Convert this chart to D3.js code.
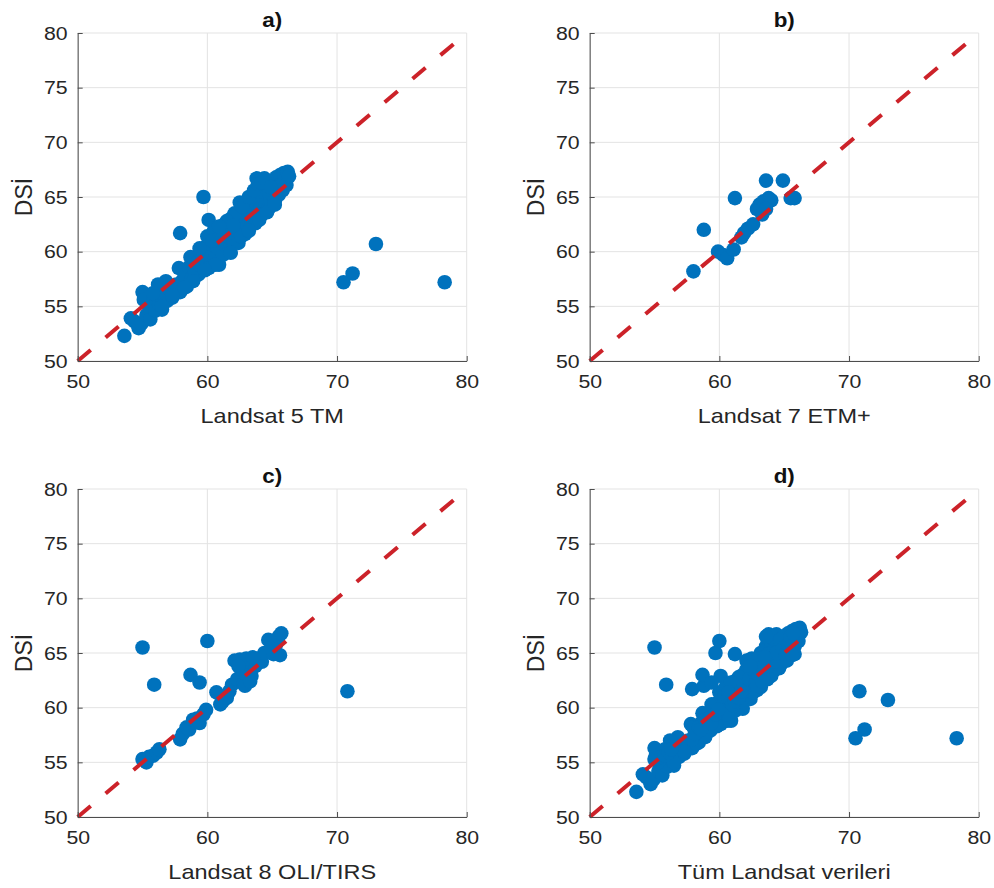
<!DOCTYPE html>
<html>
<head>
<meta charset="utf-8">
<script src="https://cdn.jsdelivr.net/npm/d3@7"></script>
<style>
  body { margin: 0; background: #fff; }
  svg { display: block; }
</style>
</head>
<body>
<svg width="994" height="888"></svg>
<script>
"use strict";

// axis settings
const domainMin = 50, domainMax = 80;
const xTicks = [50, 60, 70, 80];
const yTicks = [50, 55, 60, 65, 70, 75, 80];
const refLine = [50, 79];   // 1:1 line drawn from 50 to 79

const panelTitles = ["a)", "b)", "c)", "d)"];
const xLabels = ["Landsat 5 TM", "Landsat 7 ETM+", "Landsat 8 OLI/TIRS", "Tüm Landsat verileri"];
const yLabel = "DSİ";

// [landsat, DSI] pairs
const landsat5 = [
    [70.5, 57.2], [71.2, 58.0], [73.0, 60.7], [78.3, 57.2], [59.7, 65.0], [57.9, 61.7],
    [53.6, 52.3], [60.1, 62.9], [63.8, 66.7],
    [54.1, 53.9], [54.4, 53.6], [54.7, 53.0], [54.9, 53.4], [55.0, 56.3], [55.1, 55.6],
    [55.3, 54.2], [55.5, 55.0], [55.6, 53.8], [55.8, 55.4], [56.0, 54.6], [56.1, 55.9],
    [56.3, 55.2], [56.5, 54.7], [56.7, 56.0], [56.8, 57.3], [56.9, 55.5], [57.1, 56.6],
    [57.3, 55.8], [57.5, 56.4], [57.6, 57.0], [57.8, 58.5], [57.9, 56.3], [58.1, 57.4],
    [58.3, 57.9], [58.4, 56.8], [58.6, 58.6], [58.7, 59.5], [58.8, 57.6], [59.0, 58.3],
    [59.2, 59.0], [59.3, 57.9], [59.5, 58.7], [59.6, 59.6], [59.8, 60.4], [59.9, 59.1],
    [60.0, 61.4], [60.1, 58.5], [60.2, 59.8], [60.3, 60.7], [60.5, 61.9], [60.6, 59.4],
    [60.8, 60.3], [60.9, 58.8], [61.0, 61.2], [61.2, 59.7], [61.3, 62.5], [61.4, 60.6],
    [61.6, 61.4], [61.7, 60.2], [61.9, 62.1], [62.0, 61.0], [62.2, 61.7], [62.3, 62.6],
    [62.4, 60.8], [62.6, 63.3], [62.7, 62.0], [62.8, 64.3], [62.9, 61.6], [63.0, 63.0],
    [63.1, 62.4], [63.3, 64.0], [63.4, 62.8], [63.5, 65.2], [63.6, 63.5], [63.7, 62.6],
    [63.8, 64.4], [63.9, 63.2], [64.0, 65.6], [64.1, 64.0], [64.2, 63.4], [64.3, 65.0],
    [64.5, 64.4], [64.6, 66.0], [64.7, 63.9], [64.8, 65.3], [64.9, 64.6], [65.0, 66.4],
    [65.1, 65.1], [65.2, 64.6], [65.3, 66.8], [65.4, 65.7], [65.5, 65.2], [65.6, 67.0],
    [65.7, 66.2], [65.8, 65.6], [65.9, 67.2], [66.0, 66.6], [66.1, 66.1], [66.2, 67.3],
    [66.3, 66.9],
    [61.8, 63.0], [62.1, 63.5], [62.5, 64.5], [62.7, 64.1], [63.2, 65.0], [63.6, 65.6],
    [63.9, 66.2], [64.2, 66.3], [64.4, 66.7], [61.5, 62.8], [60.9, 62.3], [60.4, 61.0],
    [59.4, 60.3], [62.6, 61.4], [63.2, 61.9], [64.0, 62.9], [64.6, 63.6], [65.2, 64.3],
    [61.8, 59.9], [60.6, 58.8], [59.8, 58.3], [58.9, 57.3], [58.2, 56.7], [57.3, 56.0],
    [56.5, 55.0], [65.6, 66.0], [64.9, 65.9], [62.0, 62.4], [56.2, 57.0], [55.8, 56.2]
];

const landsat7 = [
    [58.0, 58.2], [58.8, 62.0], [61.2, 64.9], [59.9, 60.0], [60.3, 59.7], [60.6, 59.4],
    [61.1, 60.2], [61.7, 61.3], [61.9, 61.7], [62.2, 62.1], [62.6, 62.5], [62.9, 63.9],
    [63.1, 64.3], [63.3, 63.4], [63.4, 64.6], [63.6, 66.5], [63.8, 64.9], [64.0, 64.7],
    [63.6, 63.9], [64.9, 66.5], [65.5, 64.9], [65.8, 64.9]
];

const landsat8 = [
    [55.0, 65.5], [55.9, 62.1], [60.0, 66.1], [58.7, 63.0], [59.4, 62.3], [70.8, 61.5],
    [55.0, 55.3], [55.3, 55.0], [55.5, 55.5], [55.8, 55.6], [56.1, 55.9], [56.3, 56.2],
    [57.9, 57.1], [58.1, 57.6], [58.4, 58.2], [58.6, 58.0], [58.9, 58.9], [59.2, 59.0],
    [59.4, 58.6], [59.7, 59.4], [59.9, 59.8],
    [60.7, 61.4], [61.0, 60.3], [61.2, 60.6], [61.5, 60.9], [61.7, 61.5], [61.9, 62.1],
    [62.1, 64.3], [62.3, 62.6], [62.6, 63.5], [62.8, 62.2], [63.0, 63.0], [63.2, 64.2],
    [63.4, 62.9], [63.7, 63.8], [63.9, 64.5], [64.2, 64.2], [64.4, 65.0], [64.7, 66.2],
    [64.9, 65.4], [65.1, 64.9], [65.3, 65.8], [65.5, 66.5], [65.6, 64.8], [65.7, 66.8],
    [62.5, 64.4], [63.0, 64.5], [63.5, 64.6], [62.4, 63.8], [62.9, 62.0], [63.3, 62.4]
];

const allLandsat = landsat5.concat(landsat7, landsat8);
const panelData = [landsat5, landsat7, landsat8, allLandsat];

// layout
const plotW = 389, plotH = 328;
const lefts = [77.7, 589.7];
const tops = [33, 489];
const stretch = "scale(1.12,1)";   // the reference text is a little wide
const font = "'Liberation Sans', Arial, Helvetica, sans-serif";

window.addEventListener("load", drawPanels);

function drawPanels() {
    const svg = d3.select("svg");

    panelData.forEach((data, i) => {
        const left = lefts[i % 2];
        const top = tops[Math.floor(i / 2)];

        const x = d3.scaleLinear().domain([domainMin, domainMax]).range([left, left + plotW]);
        const y = d3.scaleLinear().domain([domainMin, domainMax]).range([top + plotH, top]);

        const g = svg.append("g");

        // grid
        g.selectAll(".gx").data(xTicks).join("line")
            .attr("class", "gx")
            .attr("x1", d => x(d)).attr("x2", d => x(d))
            .attr("y1", top).attr("y2", top + plotH)
            .attr("stroke", "#e3e3e3").attr("stroke-width", 1);
        g.selectAll(".gy").data(yTicks).join("line")
            .attr("class", "gy")
            .attr("y1", d => y(d)).attr("y2", d => y(d))
            .attr("x1", left).attr("x2", left + plotW)
            .attr("stroke", "#e3e3e3").attr("stroke-width", 1);

        // points
        g.append("g").selectAll("circle")
            .data(data)
            .join("circle")
                .attr("cx", d => x(d[0]))
                .attr("cy", d => y(d[1]))
                .attr("r", 7.3)
                .attr("fill", "#0072BD");

        // 1:1 line
        g.append("line")
            .attr("x1", x(refLine[0])).attr("y1", y(refLine[0]))
            .attr("x2", x(refLine[1])).attr("y2", y(refLine[1]))
            .attr("stroke", "#cc2229")
            .attr("stroke-width", 4)
            .attr("stroke-dasharray", "17,19.5");

        // axes, ticks pointing inward
        const xAxis = g.append("g")
            .attr("transform", `translate(0, ${top + plotH})`)
            .call(d3.axisBottom(x).tickValues(xTicks).tickSizeInner(-5).tickSizeOuter(0).tickPadding(14));
        const yAxis = g.append("g")
            .attr("transform", `translate(${left}, 0)`)
            .call(d3.axisLeft(y).tickValues(yTicks).tickSizeInner(-5).tickSizeOuter(0).tickPadding(9));

        [xAxis, yAxis].forEach(ax => {
            ax.selectAll("path, line").attr("stroke", "#4d4d4d");
            ax.selectAll("text")
                .attr("font-size", 19)
                .attr("font-family", font)
                .attr("fill", "#262626")
                .attr("transform", stretch);
        });

        // title
        svg.append("text")
            .attr("transform", `translate(${left + plotW / 2}, ${top - 6.5}) ${stretch}`)
            .attr("text-anchor", "middle")
            .attr("font-size", 20)
            .attr("font-weight", "bold")
            .attr("font-family", font)
            .attr("fill", "#111")
            .text(panelTitles[i]);

        // x label
        svg.append("text")
            .attr("transform", `translate(${left + plotW / 2}, ${top + plotH + 62}) ${stretch}`)
            .attr("text-anchor", "middle")
            .attr("font-size", 21)
            .attr("font-family", font)
            .attr("fill", "#262626")
            .text(xLabels[i]);

        // y label
        svg.append("text")
            .attr("transform", `translate(${left - 45.5}, ${top + plotH / 2}) rotate(-90)`)
            .attr("text-anchor", "middle")
            .attr("font-size", 23)
            .attr("font-family", font)
            .attr("fill", "#262626")
            .text(yLabel);
    });
}
</script>
</body>
</html>
